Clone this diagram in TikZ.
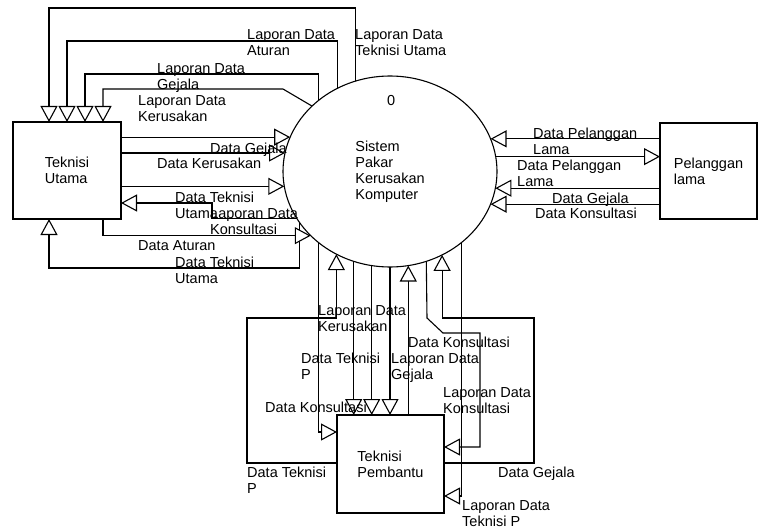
\documentclass[tikz,border=0pt]{standalone}
\usepackage{fontspec}
\setmainfont{Liberation Sans}
\usetikzlibrary{arrows.meta,shapes.geometric}
\begin{document}
\begin{tikzpicture}[x=1pt,y=-1pt,
  every node/.style={font=\fontsize{14.5}{16}\selectfont},
  box/.style={draw, rectangle, line width=1.1pt, outer sep=0pt, inner sep=0pt, align=left},
  proc/.style={draw, ellipse, line width=1.1pt, outer sep=0pt, inner sep=0pt,
    minimum width=214pt, minimum height=191pt, align=left},
  flow/.style={line width=1.1pt, -{Triangle[length=16pt,width=17pt,fill=white]}},
  lbl/.style={anchor=north west, inner sep=0pt, align=left}]
\fill[white] (0,0) rectangle (760,532);
\useasboundingbox (0,0) rectangle (760,532);

% nodes
\node[proc] (c) at (390,171.5) {Sistem\\Pakar\\Kerusakan\\Komputer};
\node[lbl] (zero) at (387,95) {0};
\node[box, minimum width=108pt, minimum height=97pt] (TU) at (67,170.5) {Teknisi\\Utama};
\node[box, minimum width=97pt, minimum height=96pt] (PL) at (708.5,171) {Pelanggan\\lama};
\node[box, minimum width=107pt, minimum height=98pt] (TP) at (390.5,464) {Teknisi\\Pembantu};

% Teknisi Utama flows
\draw[flow] (c.111.8) |- (49,8) -- (TU.north -| 49,8);
\draw[flow] (c.122.6) |- (67,41) -- (TU.north -| 67,41);
\draw[flow] (c.135.6) |- (85,74) -- (TU.north -| 85,74);
\draw[flow] (c.140.2) -- (283,89) -- (103,89) -- (TU.north -| 103,89);
\draw[flow] (TU.east |- c.161.5) -- (c.161.5);
\draw[flow] (TU.east |- c.170.6) -- (c.170.6);
\draw[flow] (TU.east |- c.188.9) -- (c.188.9);
\draw[flow] (c.207.1) -| (212,203) -- (TU.east |- 212,203);
\draw[flow] (c.209.8) |- (49,268) -- (TU.south -| 49,268);
\draw[flow] (TU.south -| 103,0) |- (c.219.3);

% Pelanggan lama flows
\draw[flow] (PL.west |- c.18.5) -- (c.18.5);
\draw[flow] (c.8.9) -- (PL.west |- c.8.9);
\draw[flow] (PL.west |- c.351.65) -- (c.351.65);
\draw[flow] (PL.west |- c.342.7) -- (c.342.7);

% Teknisi Pembantu flows
\draw[flow] (c.225.2) |- ([yshift=32pt]TP.west);
\draw[flow] ([yshift=1pt]TP.west) -| (247,318) -| (c.237.4);
\draw[flow] (c.248.8) -- (c.248.8 |- TP.north);
\draw[flow] (c.259.8) -- (c.259.8 |- TP.north);
\draw[flow] (c.270.6) -- (c.270.6 |- TP.north);
\draw[flow] (TP.north -| c.281.4) -- (c.281.4);
\draw[flow] (c.292.4) -- (427,318) -- (443,333) -- (480,333) -- (480,447) -- ([yshift=17pt]TP.east);
\draw[flow] ([yshift=1pt]TP.east) -| (534,318) -| (c.302.6);
\draw[flow] (c.315.6) |- ([yshift=-32pt]TP.east);

% labels
\node[lbl] (l1) at (355,29) {Laporan Data\\Teknisi Utama};
\node[lbl] (l2) at (247,29) {Laporan Data\\Aturan};
\node[lbl] (l3) at (157,63) {Laporan Data\\Gejala};
\node[lbl] (l4) at (138,95) {Laporan Data\\Kerusakan};
\node[lbl] (l5) at (210,143) {Data Gejala};
\node[lbl] (l6) at (157,158) {Data Kerusakan};
\node[lbl] (l7) at (175,192) {Data Teknisi\\Utama};
\node[lbl] (l8) at (210,208) {Laporan Data\\Konsultasi};
\node[lbl] (l9) at (138,240) {Data Aturan};
\node[lbl] (l10) at (175,257) {Data Teknisi\\Utama};
\node[lbl] (r1) at (533,128) {Data Pelanggan\\Lama};
\node[lbl] (r2) at (517,160) {Data Pelanggan\\Lama};
\node[lbl] (r3) at (552,193) {Data Gejala};
\node[lbl] (r4) at (535,208) {Data Konsultasi};
\node[lbl] (b1) at (318,305) {Laporan Data\\Kerusakan};
\node[lbl] (b2) at (408,337) {Data Konsultasi};
\node[lbl] (b3) at (301,353) {Data Teknisi\\P};
\node[lbl] (b4) at (391,353) {Laporan Data\\Gejala};
\node[lbl] (b5) at (443,387) {Laporan Data\\Konsultasi};
\node[lbl] (b6) at (265,402) {Data Konsultasi};
\node[lbl] (b7) at (247,467) {Data Teknisi\\P};
\node[lbl] (b8) at (498,467) {Data Gejala};
\node[lbl] (b9) at (462,500) {Laporan Data\\Teknisi P};
\end{tikzpicture}
\end{document}
